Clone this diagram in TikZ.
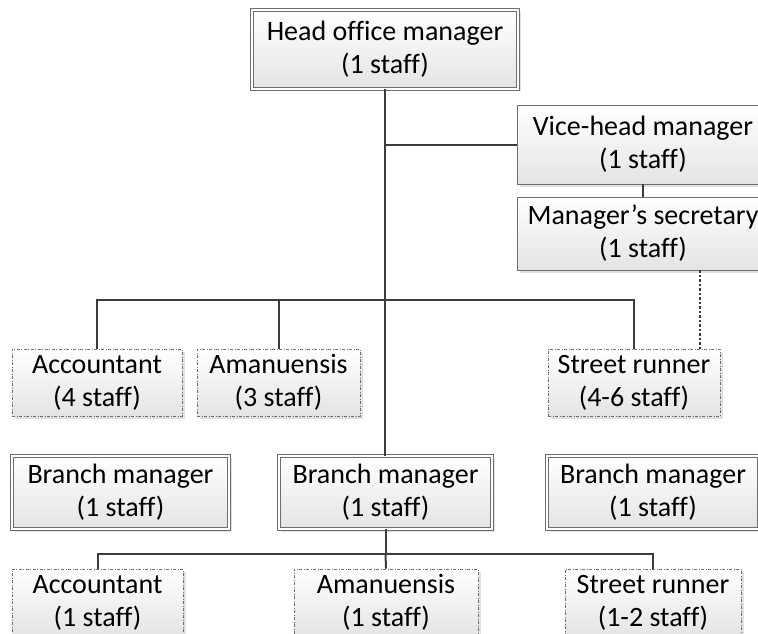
\documentclass[tikz,border=0pt]{standalone}
\usepackage{fontspec}
\setmainfont{Carlito}[Ligatures=NoCommon]
\usetikzlibrary{shadows}

\definecolor{linegray}{HTML}{3C3C3C}
\definecolor{boxgray}{HTML}{6E6E6E}
\definecolor{fillgray}{HTML}{E4E4E4}

\begin{document}
\begin{tikzpicture}[
		x=1pt, y=-1pt,
		% Base style of every box (gradient fill + soft shadow)
		unit/.style={
			draw=boxgray,
			line width=0.7pt,
			top color=white,
			bottom color=fillgray,
			drop shadow={shadow xshift=2.5pt, shadow yshift=-2.5pt, fill=black, opacity=0.12},
			text=black,
			font=\fontsize{28}{33}\selectfont,
			align=center,
			inner sep=2pt,
			minimum height=#1,
		},
		% Managers: double border
		manager/.style={
			unit=73pt,
			double=white,
			double distance=2pt,
		},
		% Head office staff: single border
		officebox/.style={
			unit=#1,
		},
		% Staff under a manager: dash-dot border
		staffbox/.style={
			unit=67pt,
			dash pattern=on 3pt off 1.5pt on 1pt off 1.5pt,
		},
		% Connectors
		link/.style={
			draw=linegray,
			line width=2pt,
		}
		]
		\clip (0,0) rectangle (758,634);
		\useasboundingbox (0,0) rectangle (758,634);
		
		% --- HEAD OFFICE ---
		\node[manager, minimum width=266pt, minimum height=79pt] (head) at (385,49.5) {Head office manager\\(1 staff)};
		\node[officebox=79pt, minimum width=252pt] (vice) at (643,144.5) {Vice-head manager\\(1 staff)};
		\node[officebox=73pt, minimum width=252pt] (secr) at (643,233.5) {Manager’s secretary\\(1 staff)};
		
		\node[staffbox, minimum width=170pt] (acc1) at (97,382.5) {Accountant\\(4 staff)};
		\node[staffbox, minimum width=163pt] (ama1) at (278.5,382.5) {Amanuensis\\(3 staff)};
		\node[staffbox, minimum width=172pt] (run1) at (634,382.5) {Street runner\\(4-6 staff)};
		
		% --- BRANCHES ---
		\node[manager, minimum width=217pt] (bm1) at (120.5,492.5) {Branch manager\\(1 staff)};
		\node[manager, minimum width=213pt] (bm2) at (385.5,492.5) {Branch manager\\(1 staff)};
		\node[manager, minimum width=212pt] (bm3) at (653,492.5) {Branch manager\\(1 staff)};
		
		\node[staffbox, minimum width=171pt] (acc2) at (97.5,602.5) {Accountant\\(1 staff)};
		\node[staffbox, minimum width=184pt] (ama2) at (386,602.5) {Amanuensis\\(1 staff)};
		\node[staffbox, minimum width=176pt] (run2) at (653,602.5) {Street runner\\(1-2 staff)};
		
		% --- BUS LEVELS ---
		\coordinate (busA) at (0,300);
		\coordinate (busB) at (0,554);
		\coordinate (viceY) at (0,145);
		\coordinate (dotX) at (700,0);
		
		% --- CONNECTORS ---
		\draw[link] (head.south) -- (head.south |- bm2.north);
		\draw[link] (head.south |- viceY) -- (vice.west |- viceY);
		\draw[link] (vice.south) -- (secr.north);
		\draw[link] (acc1.north) -- (acc1.north |- busA) -- (run1.north |- busA) -- (run1.north);
		\draw[link] (ama1.north) -- (ama1.north |- busA);
		\draw[link, dash pattern=on 2.5pt off 2pt, line width=1.6pt] (secr.south -| dotX) -- (run1.north -| dotX);
		
		\draw[link] (bm2.south) -- (bm2.south |- busB);
		\draw[link] (acc2.north) -- (acc2.north |- busB) -- (run2.north |- busB) -- (run2.north);
		\draw[link] (bm2.south |- busB) -- (ama2.north);
		
	\end{tikzpicture}
\end{document}
